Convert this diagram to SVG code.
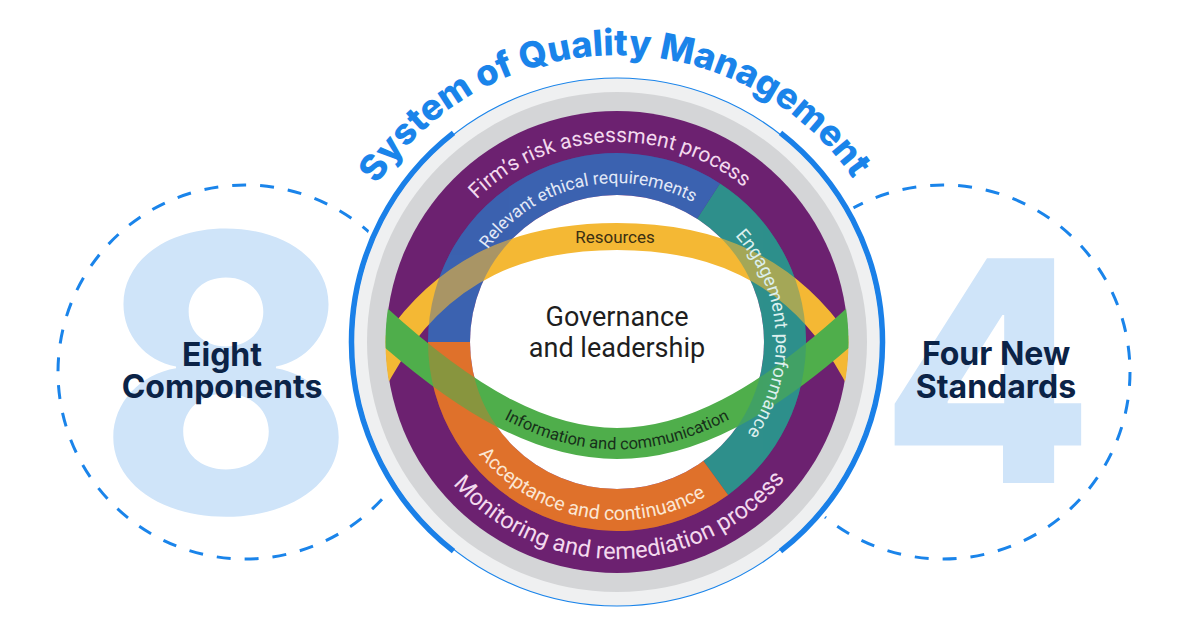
<svg xmlns="http://www.w3.org/2000/svg" width="1200" height="643" viewBox="0 0 1200 643">
<defs>
<style>
.dash{fill:none;stroke:#1a84ea;stroke-width:3;stroke-dasharray:14 14}
.big{font-family:Inter,'Liberation Sans',sans-serif;font-weight:800;fill:#cfe4f9;text-anchor:middle}
.lbl{font-family:Inter,'Liberation Sans',sans-serif;font-weight:700;font-size:32px;fill:#0b2347;text-anchor:middle}
.title{font-family:Inter,'Liberation Sans',sans-serif;font-weight:800;font-size:36px;fill:#1a84ea}
.rt{font-family:Roboto,'Liberation Sans',sans-serif;font-weight:400;text-anchor:middle}
.band{fill:none}
.blue-arc{fill:none;stroke:#1a80e8;stroke-width:5.5}
</style>
<clipPath id="disc"><circle cx="617" cy="342" r="231.5"/></clipPath>
<path id="p-title" d="M334.4,292.2 A287,287 0 0 1 899.6,292.2"/>
<path id="p-firm" d="M417,342 A200,200 0 0 1 817,342"/>
<path id="p-mon" d="M400,342 A217,217 0 0 0 834,342"/>
<path id="p-rel" d="M458,342 A159,159 0 0 1 776,342"/>
<path id="p-eng" d="M617,183 A159,159 0 0 1 617,501"/>
<path id="p-acc" d="M439,342 A178,178 0 0 0 795,342"/>
<path id="p-info" d="M375,324 C470,411 545,449.5 617,449.5 C689,449.5 764,411 859,324"/>
</defs>
<rect width="1200" height="643" fill="#ffffff"/>

<g id="node-eight">
<circle class="dash" cx="245" cy="372" r="187"/>
<text class="big" x="226" y="513" font-size="386">8</text>
<text class="lbl" x="222" y="366">Eight</text>
<text class="lbl" x="222" y="398">Components</text>
</g>

<g id="node-four">
<circle class="dash" cx="943" cy="372" r="187"/>
<text class="big" x="987" y="483" font-size="309">4</text>
<text class="lbl" x="996" y="365">Four New</text>
<text class="lbl" x="996" y="398">Standards</text>
</g>

<g id="node-sqm">
<circle cx="617" cy="342" r="272" fill="#ffffff"/>
<circle cx="617" cy="342" r="264" fill="#eff0f1" stroke="#1a84ea" stroke-width="1.2"/>
<circle cx="617" cy="342" r="250" fill="#d4d5d7"/>
<circle cx="617" cy="342" r="231" fill="#6c2170"/>
<g id="ring2">
<path fill="#2e8f8b" d="M719.93,183.49 A189,189 0 0 1 728.09,494.90 L703.41,460.92 A147,147 0 0 0 697.06,218.71 Z"/>
<path fill="#df712b" d="M728.09,494.90 A189,189 0 0 1 428,342 L470,342 A147,147 0 0 0 703.41,460.92 Z"/>
<path fill="#3b62b0" d="M428,342 A189,189 0 0 1 719.93,183.49 L697.06,218.71 A147,147 0 0 0 470,342 Z"/>
</g>
<circle cx="617" cy="342" r="147" fill="#ffffff"/>
<g clip-path="url(#disc)">
<path class="band" stroke="#f4b834" stroke-width="27" d="M365,397 L380,370 C440,262 530,236.5 617,236.5 C704,236.5 794,262 854,370 L869,397"/>
<path class="band" stroke="#4fae4b" stroke-width="31" d="M353,298 L375,318 C470,405 545,443.5 617,443.5 C689,443.5 764,405 859,318 L881,298"/>
</g>
<use href="#ring2" opacity="0.4"/>
<text class="rt" font-size="21" fill="#f3d9ee"><textPath href="#p-firm" startOffset="305">Firm’s risk assessment process</textPath></text>
<text class="rt" font-size="23.5" fill="#f3d9ee"><textPath href="#p-mon" startOffset="344">Monitoring and remediation process</textPath></text>
<text class="rt" font-size="17.5" fill="#e3e9f7"><textPath href="#p-rel" startOffset="214">Relevant ethical requirements</textPath></text>
<text class="rt" font-size="18.5" fill="#dcefee"><textPath href="#p-eng" startOffset="240">Engagement performance</textPath></text>
<text class="rt" font-size="19.5" fill="#fbe6d3"><textPath href="#p-acc" startOffset="247">Acceptance and continuance</textPath></text>
<text class="rt" font-size="17" font-weight="500" fill="#3b2f12" x="615" y="243">Resources</text>
<text class="rt" font-size="16.5" font-weight="500" fill="#17301a"><textPath href="#p-info" startOffset="50%">Information and communication</textPath></text>
<text class="rt" font-size="27" font-weight="500" fill="#1e1e1e" x="617" y="326">Governance</text>
<text class="rt" font-size="27" font-weight="500" fill="#1e1e1e" x="617" y="357">and leadership</text>
<path class="blue-arc" d="M780.5,132.8 A265.5,265.5 0 0 1 780.5,551.2"/>
<path class="blue-arc" d="M453.5,551.2 A265.5,265.5 0 0 1 453.5,132.8"/>
<text class="title" text-anchor="middle"><textPath href="#p-title" startOffset="397">System of Quality Management</textPath></text>
</g>
</svg>
